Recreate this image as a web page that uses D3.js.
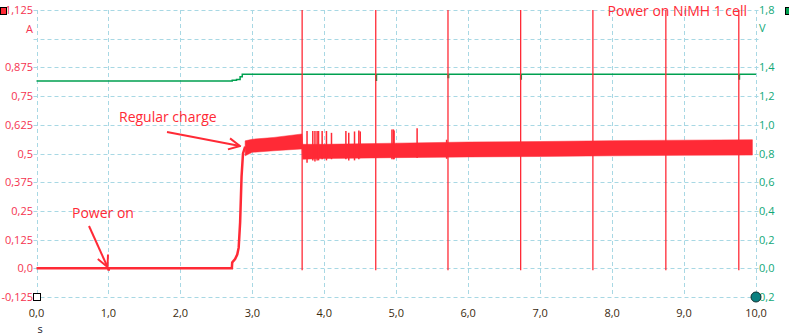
<!DOCTYPE html>
<html>
<head>
<meta charset="utf-8">
<script src="https://cdn.jsdelivr.net/npm/d3@7"></script>
<style>
  body { margin: 0; background: #fff; }
  svg { display: block; }
  text { font-family: "Open Sans", "Liberation Sans", sans-serif; }
</style>
</head>
<body>
<div id="chart"></div>
<script>
// axis ticks
var xTicks = [0, 1, 2, 3, 4, 5, 6, 7, 8, 9, 10];
var ampTicks = [-0.125, 0, 0.125, 0.25, 0.375, 0.5, 0.625, 0.75, 0.875, 1.0, 1.125];
var ampLabels = ["-0,125", "0,0", "0,125", "0,25", "0,375", "0,5", "0,625", "0,75", "0,875", "", "1,125"];
var voltTicks = [-0.2, 0, 0.2, 0.4, 0.6, 0.8, 1.0, 1.2, 1.4, 1.6, 1.8];
var voltLabels = ["0,2", "0,0", "0,2", "0,4", "0,6", "0,8", "1,0", "1,2", "1,4", "", "1,8"];

// voltage trace (s, V)
var voltTime = [0, 2.72, 2.72, 2.78, 2.83, 2.86, 4.714, 4.715, 4.725, 5.718, 5.719, 5.728, 6.728, 6.729, 6.738, 9.76, 9.761, 9.77, 10.0];
var voltValue = [1.305, 1.305, 1.31, 1.315, 1.335, 1.352, 1.352, 1.31, 1.352, 1.352, 1.33, 1.352, 1.352, 1.32, 1.352, 1.352, 1.32, 1.352, 1.352];

// current before charging starts (s, A)
var startTime = [0, 1.0, 1.0, 1.01, 2.715, 2.72, 2.76, 2.79, 2.81, 2.83, 2.85, 2.87, 2.9];
var startValue = [0, 0, -0.01, 0, 0, 0.025, 0.04, 0.06, 0.09, 0.2, 0.4, 0.5, 0.53];

// current envelope while charging (s, A)
var bandTime = [2.9, 3.0, 3.3, 3.69, 3.70, 4.0, 5.0, 6.0, 7.0, 8.0, 9.0, 9.95];
var bandHigh = [0.555, 0.562, 0.57, 0.585, 0.54, 0.54, 0.545, 0.55, 0.552, 0.556, 0.558, 0.56];
var bandLow = [0.49, 0.505, 0.512, 0.52, 0.475, 0.478, 0.482, 0.485, 0.487, 0.49, 0.492, 0.493];

// short current glitches (s, low A, high A)
var glitchTime = [3.76, 3.84, 3.87, 3.9, 3.92, 3.97, 4.03, 4.1, 4.3, 4.34, 4.42, 4.48, 4.5, 4.94, 4.96, 4.97, 5.29, 5.7];
var glitchLow = [0.46, 0.47, 0.465, 0.47, 0.47, 0.475, 0.47, 0.475, 0.475, 0.47, 0.47, 0.475, 0.48, 0.475, 0.475, 0.475, 0.48, 0.477];
var glitchHigh = [0.598, 0.598, 0.598, 0.598, 0.598, 0.598, 0.598, 0.59, 0.598, 0.59, 0.596, 0.6, 0.596, 0.605, 0.605, 0.6, 0.61, 0.56];

// full-scale current spikes (s)
var spikeTime = [3.692, 4.715, 5.719, 6.729, 7.733, 8.747, 9.761];

var W = 789, H = 335;
var margin = {top: 10, right: 33, bottom: 38, left: 36.5};
var red = "#ff2a36", green = "#00a050";

var svg = d3.select("#chart").append("svg")
  .attr("width", W).attr("height", H);

var x = d3.scaleLinear().domain([0, 10]).range([margin.left, W - margin.right]);
var yA = d3.scaleLinear().domain([-0.125, 1.125]).range([H - margin.bottom, margin.top]);
var yV = d3.scaleLinear().domain([-0.2, 1.8]).range([H - margin.bottom, margin.top]);

// grid
var grid = svg.append("g").attr("stroke", "#a8d8e4").attr("stroke-dasharray", "4,3").attr("stroke-width", 1);
xTicks.forEach(function(t) {
  grid.append("line").attr("x1", Math.round(x(t)) + 0.5).attr("x2", Math.round(x(t)) + 0.5)
    .attr("y1", margin.top).attr("y2", H - margin.bottom);
});
ampTicks.forEach(function(t) {
  grid.append("line").attr("x1", margin.left - 3).attr("x2", W - margin.right + 3)
    .attr("y1", Math.round(yA(t)) + 0.5).attr("y2", Math.round(yA(t)) + 0.5);
});

// left axis labels
svg.append("g").selectAll("text").data(ampTicks).join("text")
  .attr("x", 33).attr("y", function(d) { return yA(d) + 4; })
  .attr("text-anchor", "end").attr("font-size", 11).attr("fill", "#f5334f")
  .text(function(d, i) { return ampLabels[i]; });
svg.append("text").attr("x", 33).attr("y", 33).attr("text-anchor", "end")
  .attr("font-size", 11).attr("fill", "#f5334f").text("A");

// right axis labels
svg.append("g").selectAll("text").data(voltTicks).join("text")
  .attr("x", 759).attr("y", function(d) { return yV(d) + 4; })
  .attr("font-size", 11).attr("fill", "#10a878")
  .text(function(d, i) { return voltLabels[i]; });
svg.append("text").attr("x", 759).attr("y", 32)
  .attr("font-size", 11).attr("fill", "#10a878").text("V");

// x axis labels
svg.append("g").selectAll("text").data(xTicks).join("text")
  .attr("x", function(d) { return x(d); }).attr("y", 317)
  .attr("text-anchor", "middle").attr("font-size", 11).attr("fill", "#3a2a10")
  .text(function(d) { return d.toFixed(1).replace(".", ","); });
svg.append("text").attr("x", 40).attr("y", 333).attr("text-anchor", "middle")
  .attr("font-size", 11).attr("fill", "#1a1a2a").text("s");

var plot = svg.append("g");

// voltage
plot.append("path")
  .datum(d3.range(voltTime.length))
  .attr("fill", "none").attr("stroke", green).attr("stroke-width", 1.5)
  .attr("d", d3.line().curve(d3.curveStepAfter)
    .x(function(i) { return x(voltTime[i]); })
    .y(function(i) { return yV(voltValue[i]); }));

// full-scale spikes
plot.append("g").selectAll("line").data(spikeTime).join("line")
  .attr("x1", function(d) { return x(d); }).attr("x2", function(d) { return x(d); })
  .attr("y1", yA(1.125)).attr("y2", yA(0) + 2)
  .attr("stroke", red).attr("stroke-width", 1.3);

// current before charge
plot.append("path")
  .datum(d3.range(startTime.length))
  .attr("fill", "none").attr("stroke", red).attr("stroke-width", 2.5)
  .attr("d", d3.line()
    .x(function(i) { return x(startTime[i]); })
    .y(function(i) { return yA(startValue[i]); }));

// charging band
plot.append("path")
  .datum(d3.range(bandTime.length))
  .attr("fill", red).attr("stroke", red).attr("stroke-width", 0.5)
  .attr("d", d3.area()
    .x(function(i) { return x(bandTime[i]); })
    .y0(function(i) { return yA(bandLow[i]); })
    .y1(function(i) { return yA(bandHigh[i]); }));

// glitches
plot.append("g").selectAll("line").data(d3.range(glitchTime.length)).join("line")
  .attr("x1", function(i) { return x(glitchTime[i]); }).attr("x2", function(i) { return x(glitchTime[i]); })
  .attr("y1", function(i) { return yA(glitchHigh[i]); }).attr("y2", function(i) { return yA(glitchLow[i]); })
  .attr("stroke", red).attr("stroke-width", 1.5);

// annotations
svg.append("defs").append("marker")
  .attr("id", "arr").attr("viewBox", "0 0 10 10").attr("refX", 9).attr("refY", 5)
  .attr("markerWidth", 7).attr("markerHeight", 7).attr("orient", "auto")
  .append("path").attr("d", "M1,1 L9,5 L1,9").attr("fill", "none").attr("stroke", red).attr("stroke-width", 1.4);

svg.append("text").attr("x", 72).attr("y", 218).attr("font-size", 14).attr("fill", red).text("Power on");
svg.append("line").attr("x1", 89).attr("y1", 226).attr("x2", 107.5).attr("y2", 267)
  .attr("stroke", red).attr("stroke-width", 2).attr("marker-end", "url(#arr)");

svg.append("text").attr("x", 119).attr("y", 122).attr("font-size", 14).attr("fill", red).text("Regular charge");
svg.append("line").attr("x1", 167).attr("y1", 132).attr("x2", 240).attr("y2", 146)
  .attr("stroke", red).attr("stroke-width", 2).attr("marker-end", "url(#arr)");

svg.append("text").attr("x", 747).attr("y", 16).attr("text-anchor", "end")
  .attr("font-size", 14).attr("fill", red).text("Power on NiMH 1 cell");

// corner markers
svg.append("rect").attr("x", 0.5).attr("y", 7.5).attr("width", 6).attr("height", 7)
  .attr("fill", red).attr("stroke", "#000");
svg.append("rect").attr("x", 785.5).attr("y", 7.5).attr("width", 6).attr("height", 7)
  .attr("fill", green).attr("stroke", "#000");
svg.append("rect").attr("x", 33.5).attr("y", 293.5).attr("width", 7).attr("height", 7)
  .attr("fill", "#fff").attr("stroke", "#000");
svg.append("circle").attr("cx", 756).attr("cy", 297).attr("r", 5)
  .attr("fill", "#0a8080").attr("stroke", "#103030");
</script>
</body>
</html>
